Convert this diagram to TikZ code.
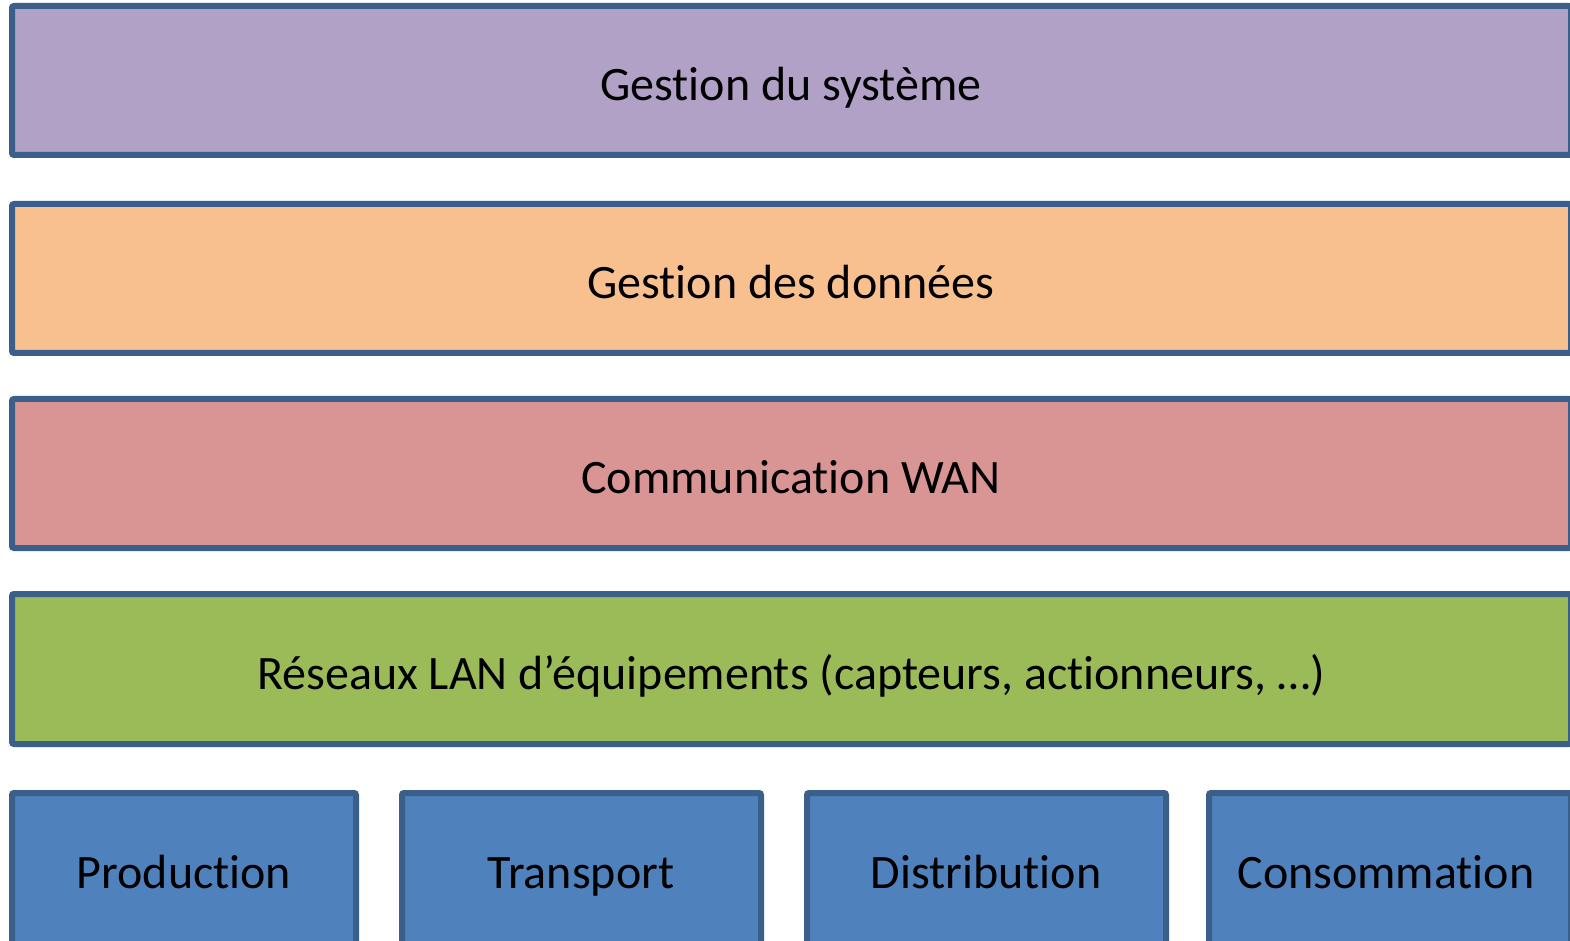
\documentclass[tikz,border=0pt]{standalone}
\usepackage{fontspec}
\setmainfont[Ligatures=NoCommon]{Carlito}
\definecolor{edge}{HTML}{3A5F8B}
\definecolor{fsys}{HTML}{B2A1C7}
\definecolor{fdata}{HTML}{F9C08F}
\definecolor{fwan}{HTML}{D99594}
\definecolor{flan}{HTML}{9BBB59}
\definecolor{fdom}{HTML}{4F81BD}
\tikzset{
  layer/.style={draw=edge, line width=3pt, rounded corners=1pt},
  label/.style={anchor=base, inner sep=0pt, font=\fontsize{24}{28}\selectfont, text=black},
}
\begin{document}
\begin{tikzpicture}[x=0.5pt, y=-0.5pt]
  \useasboundingbox (0,0) rectangle (1570,941);
  \clip (0,0) rectangle (1570,941);
  % horizontal layers
  \draw[layer, fill=fsys]  (12,6)   rectangle (1571,155);
  \node[label] (sys)  at (791,101) {Gestion du système};
  \draw[layer, fill=fdata] (12,204) rectangle (1571,353);
  \node[label] (data) at (791,299) {Gestion des données};
  \draw[layer, fill=fwan]  (12,399) rectangle (1571,548);
  \node[label] (wan)  at (791,494) {Communication WAN};
  \draw[layer, fill=flan]  (12,594) rectangle (1571,744);
  \node[label] (lan)  at (791,689) {Réseaux LAN d’équipements (capteurs, actionneurs, …)};
  % domain boxes
  \draw[layer, fill=fdom] (12,793)   rectangle (356,951);
  \node[label] (prod)  at (184,888)  {Production};
  \draw[layer, fill=fdom] (402,793)  rectangle (761,951);
  \node[label] (trans) at (581,888)  {Transport};
  \draw[layer, fill=fdom] (807,793)  rectangle (1166,951);
  \node[label] (dist)  at (986,888)  {Distribution};
  \draw[layer, fill=fdom] (1209,793) rectangle (1571,951);
  \node[label] (cons)  at (1386,888) {Consommation};
\end{tikzpicture}
\end{document}
